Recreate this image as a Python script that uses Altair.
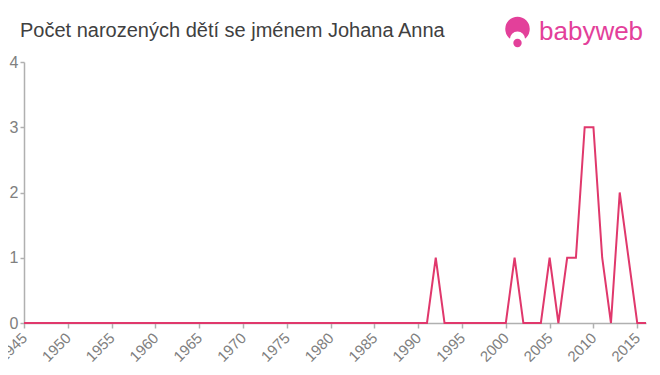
import altair as alt
import pandas as pd

title_text = "Počet narozených dětí se jménem Johana Anna"
years = list(range(1945, 2017))
counts = [
    0, 0, 0, 0, 0, 0, 0, 0, 0, 0,   # 1945-1954
    0, 0, 0, 0, 0, 0, 0, 0, 0, 0,   # 1955-1964
    0, 0, 0, 0, 0, 0, 0, 0, 0, 0,   # 1965-1974
    0, 0, 0, 0, 0, 0, 0, 0, 0, 0,   # 1975-1984
    0, 0, 0, 0, 0, 0, 0, 1, 0, 0,   # 1985-1994
    0, 0, 0, 0, 0, 0, 1, 0, 0, 0,   # 1995-2004
    1, 0, 1, 1, 3, 3, 1, 0, 2, 1,   # 2005-2014
    0, 0,                           # 2015-2016
]
x_ticks = [1945, 1950, 1955, 1960, 1965, 1970, 1975, 1980, 1985, 1990, 1995, 2000, 2005, 2010, 2015]
y_ticks = [0, 1, 2, 3, 4]

df = pd.DataFrame({"year": years, "count": counts})

FONT = "Liberation Sans"
LINE = "#e0386c"
PINK = "#e3409a"
AXIS = "#b0b0b0"
LABEL = "#808080"

line = alt.Chart(df).mark_line(color=LINE, strokeWidth=2).encode(
    x=alt.X(
        "year:Q",
        scale=alt.Scale(domain=[1945, 2016], nice=False, zero=False),
        axis=alt.Axis(
            values=x_ticks, format="d", labelAngle=-45, labelAlign="right",
            labelBaseline="middle", labelFontSize=15, labelColor=LABEL,
            labelFont=FONT, domainColor=AXIS, domainWidth=1.5,
            tickColor=AXIS, tickSize=5, tickWidth=1.5, grid=False,
            title=None, labelPadding=7, labelOverlap=False, labelFlush=False,
        ),
    ),
    y=alt.Y(
        "count:Q",
        scale=alt.Scale(domain=[0, 4], nice=False),
        axis=alt.Axis(
            values=y_ticks, format="d", labelFontSize=16, labelColor=LABEL,
            labelFont=FONT, domainColor=AXIS, domainWidth=1.5,
            tickColor=AXIS, tickSize=4, tickWidth=1.5, grid=False,
            title=None, labelPadding=2,
        ),
    ),
)

title = alt.Chart(pd.DataFrame({"t": [title_text]})).mark_text(
    align="left", baseline="alphabetic", fontSize=20, font=FONT, color="#404040"
).encode(text="t:N", x=alt.value(-4), y=alt.value(-25))

logo_outer = alt.Chart(pd.DataFrame({"c": [1]})).mark_point(
    filled=True, color=PINK, opacity=1, shape="circle"
).encode(x=alt.value(493.5), y=alt.value(-33), size=alt.value(600))

logo_face = alt.Chart(pd.DataFrame({"c": [1]})).mark_point(
    filled=True, color="white", opacity=1, shape="circle"
).encode(x=alt.value(493.5), y=alt.value(-23), size=alt.value(230))

logo_dot = alt.Chart(pd.DataFrame({"c": [1]})).mark_point(
    filled=True, color=PINK, opacity=1, shape="circle"
).encode(x=alt.value(493.5), y=alt.value(-19), size=alt.value(70))

logo_text = alt.Chart(pd.DataFrame({"t": ["babyweb"]})).mark_text(
    align="left", baseline="alphabetic", fontSize=26, font=FONT, color=PINK
).encode(text="t:N", x=alt.value(515), y=alt.value(-22))

chart = alt.layer(line, title, logo_outer, logo_face, logo_dot, logo_text).properties(
    width=622, height=261,
    autosize=alt.AutoSizeParams(type="none"),
    padding={"left": 16, "top": 54, "right": 6, "bottom": 44},
).configure_view(stroke=None)

chart.save("out.html", embed_options={"renderer": "svg", "actions": False})
